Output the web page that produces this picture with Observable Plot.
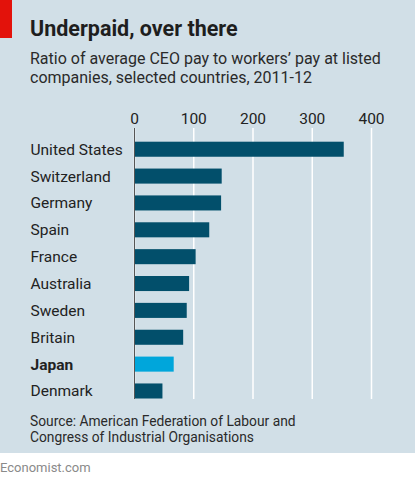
<!DOCTYPE html>
<html>
<head>
<meta charset="utf-8">
<script src="https://cdn.jsdelivr.net/npm/d3@7"></script>
<script src="https://cdn.jsdelivr.net/npm/@observablehq/plot@0.6"></script>
<style>
  body { margin: 0; background: #fff; font-family: Roboto, "Noto Sans", sans-serif; }
  #panel { position: absolute; left: 0; top: 0; width: 415px; height: 453px; background: #d1dfe7; }
  #redbar { position: absolute; left: 0; top: 0; width: 12px; height: 38px; background: #e3120b; }
  #title { position: absolute; left: 30px; top: 17px; font-size: 21.5px; font-weight: bold; color: #1e1e1e; margin: 0; line-height: 24px; }
  #subtitle { position: absolute; left: 30px; top: 49px; font-size: 16px; color: #2a2a2a; line-height: 19px; }
  #chart { position: absolute; left: 0; top: 100px; }
  #source { position: absolute; left: 30px; top: 413px; font-size: 13.8px; color: #2a2a2a; line-height: 16px; }
  #footer { position: absolute; left: 0; top: 460px; font-size: 13px; color: #8a8a8a; }
  #chart svg { display: block; }
</style>
</head>
<body>
<div id="panel">
  <div id="redbar"></div>
  <div id="title">Underpaid, over there</div>
  <div id="subtitle">Ratio of average CEO pay to workers’ pay at listed<br>companies, selected countries, 2011-12</div>
  <div id="chart"></div>
  <div id="source">Source: American Federation of Labour and<br>Congress of Industrial Organisations</div>
</div>
<div id="footer">Economist.com</div>
<script>
// values
const countries = ["United States", "Switzerland", "Germany", "Spain", "France",
                   "Australia", "Sweden", "Britain", "Japan", "Denmark"];
const ratios = [354, 148, 147, 127, 104, 93, 89, 83, 67, 48];
const highlight = "Japan";
const xTicks = [0, 100, 200, 300, 400];

const rows = countries.map((c, i) => ({country: c, ratio: ratios[i]}));
const isHi = d => d.country === highlight;

const plot = Plot.plot({
  width: 415, height: 300,
  marginLeft: 134, marginRight: 44, marginTop: 28, marginBottom: 1,
  style: {background: "transparent", fontFamily: "Roboto, 'Noto Sans', sans-serif", fontSize: "15px", color: "#222"},
  x: {domain: [0, 400], ticks: xTicks, label: null},
  y: {domain: countries, range: [41.7, 298.5], paddingInner: 0.44, paddingOuter: 0, round: false, axis: null},
  marks: [
    Plot.gridX(xTicks, {stroke: "#fff", strokeOpacity: 1, strokeWidth: 1.5}),
    Plot.axisX(xTicks, {anchor: "top", tickSize: 0, tickPadding: 5, label: null, fontSize: 15.5}),
    Plot.barX(rows, {
      x: "ratio", y: "country",
      fill: d => isHi(d) ? "#00a6db" : "#024f6b"
    }),
    Plot.ruleX([0], {stroke: "#555", strokeWidth: 1}),
    Plot.text(rows.filter(d => !isHi(d)), {
      y: "country", text: "country", frameAnchor: "left", dx: -104,
      textAnchor: "start", fontSize: 15.5, fill: "#222"
    }),
    Plot.text(rows.filter(isHi), {
      y: "country", text: "country", frameAnchor: "left", dx: -104,
      textAnchor: "start", fontSize: 15.5, fill: "#222", fontWeight: "bold"
    })
  ]
});
document.getElementById("chart").appendChild(plot);
</script>
</body>
</html>
